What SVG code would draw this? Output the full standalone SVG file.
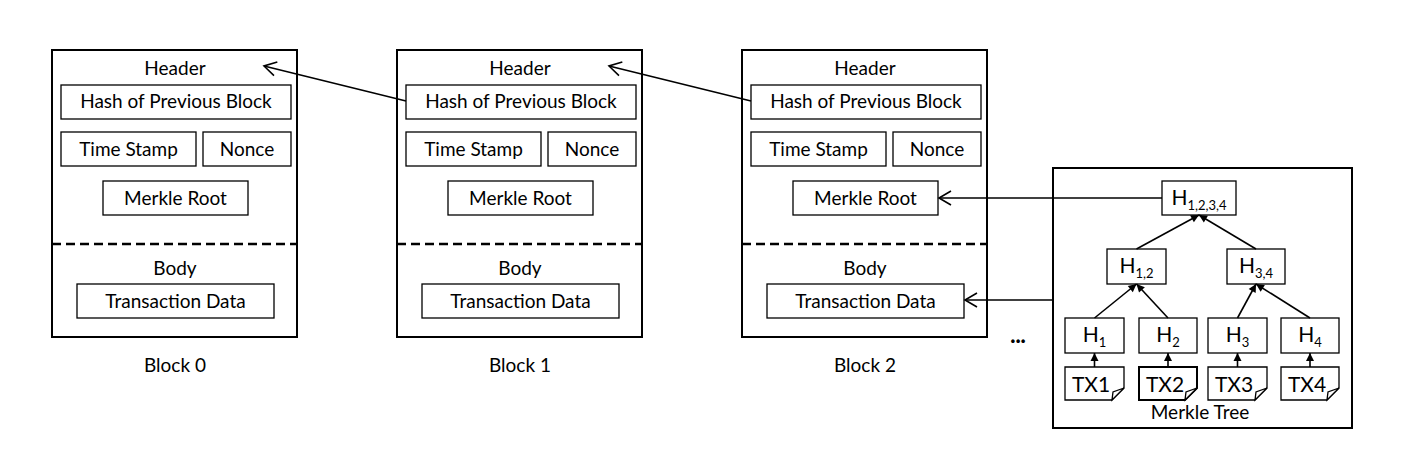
<svg xmlns="http://www.w3.org/2000/svg" width="1410" height="458" viewBox="0 0 1410 458">
<style>
text{font-family:Lato,"Open Sans","Liberation Sans",sans-serif;font-size:19px;fill:#000;text-anchor:middle}
.outer{fill:#fff;stroke:#000;stroke-width:2}
.box{fill:#fff;stroke:#000;stroke-width:1.3}
.dash{stroke:#000;stroke-width:2.5;stroke-dasharray:9,5}
.conn{fill:none;stroke:#000;stroke-width:1.6}
.t{font-size:21px}
.sub{font-size:13px}
</style>
<defs>
<marker id="open" viewBox="-14 -9 16 18" refX="0" refY="0" markerWidth="16" markerHeight="18" markerUnits="userSpaceOnUse" orient="auto">
<path d="M-12,-7 L0,0 L-12,7" fill="none" stroke="#000" stroke-width="1.6"/>
</marker>
<marker id="fill" viewBox="-9 -5 10 10" refX="0" refY="0" markerWidth="10" markerHeight="10" markerUnits="userSpaceOnUse" orient="auto">
<path d="M-8,-4 L0,0 L-8,4 Z" fill="#000"/>
</marker>
</defs>
<rect width="1410" height="458" fill="#fff"/>

<g id="block0">
<rect class="outer" x="52" y="50" width="245" height="287"/>
<text x="175" y="75">Header</text>
<rect class="box" x="61" y="85" width="230" height="34"/>
<text x="176" y="108">Hash of Previous Block</text>
<rect class="box" x="61" y="132" width="135" height="34"/>
<text x="128.5" y="156">Time Stamp</text>
<rect class="box" x="203" y="132" width="88" height="34"/>
<text x="247" y="156">Nonce</text>
<rect class="box" x="103" y="181" width="145" height="34"/>
<text x="175.5" y="205">Merkle Root</text>
<line class="dash" x1="52" y1="244" x2="297" y2="244"/>
<text x="175" y="275">Body</text>
<rect class="box" x="77" y="284" width="197" height="34"/>
<text x="175.5" y="308">Transaction Data</text>
<text x="175" y="372">Block 0</text>
</g>

<g id="block1" transform="translate(345,0)">
<rect class="outer" x="52" y="50" width="245" height="287"/>
<text x="175" y="75">Header</text>
<rect class="box" x="61" y="85" width="230" height="34"/>
<text x="176" y="108">Hash of Previous Block</text>
<rect class="box" x="61" y="132" width="135" height="34"/>
<text x="128.5" y="156">Time Stamp</text>
<rect class="box" x="203" y="132" width="88" height="34"/>
<text x="247" y="156">Nonce</text>
<rect class="box" x="103" y="181" width="145" height="34"/>
<text x="175.5" y="205">Merkle Root</text>
<line class="dash" x1="52" y1="244" x2="297" y2="244"/>
<text x="175" y="275">Body</text>
<rect class="box" x="77" y="284" width="197" height="34"/>
<text x="175.5" y="308">Transaction Data</text>
<text x="175" y="372">Block 1</text>
</g>

<g id="block2" transform="translate(690,0)">
<rect class="outer" x="52" y="50" width="245" height="287"/>
<text x="175" y="75">Header</text>
<rect class="box" x="61" y="85" width="230" height="34"/>
<text x="176" y="108">Hash of Previous Block</text>
<rect class="box" x="61" y="132" width="135" height="34"/>
<text x="128.5" y="156">Time Stamp</text>
<rect class="box" x="203" y="132" width="88" height="34"/>
<text x="247" y="156">Nonce</text>
<rect class="box" x="103" y="181" width="145" height="34"/>
<text x="175.5" y="205">Merkle Root</text>
<line class="dash" x1="52" y1="244" x2="297" y2="244"/>
<text x="175" y="275">Body</text>
<rect class="box" x="77" y="284" width="197" height="34"/>
<text x="175.5" y="308">Transaction Data</text>
<text x="175" y="372">Block 2</text>
</g>

<g id="ellipsis">
<text x="1018" y="343" style="font-weight:900;font-size:22px">...</text>
</g>

<g id="merkle-tree">
<rect class="outer" x="1053" y="168" width="299" height="260"/>
<text x="1200" y="419">Merkle Tree</text>
<g id="h1234">
<rect class="box" x="1162" y="181" width="74" height="34"/>
<text class="t" x="1199" y="205">H<tspan class="sub" dy="5">1,2,3,4</tspan></text>
</g>
<g id="h12">
<rect class="box" x="1107" y="249" width="59" height="35"/>
<text class="t" x="1136.5" y="273">H<tspan class="sub" dy="5">1,2</tspan></text>
</g>
<g id="h34">
<rect class="box" x="1227" y="249" width="58" height="35"/>
<text class="t" x="1256" y="273">H<tspan class="sub" dy="5">3,4</tspan></text>
</g>
<g id="h1">
<rect class="box" x="1065" y="318" width="59" height="35"/>
<text class="t" x="1094.5" y="342">H<tspan class="sub" dy="5">1</tspan></text>
</g>
<g id="h2">
<rect class="box" x="1139" y="318" width="58" height="35"/>
<text class="t" x="1168" y="342">H<tspan class="sub" dy="5">2</tspan></text>
</g>
<g id="h3">
<rect class="box" x="1208" y="318" width="59" height="35"/>
<text class="t" x="1237.5" y="342">H<tspan class="sub" dy="5">3</tspan></text>
</g>
<g id="h4">
<rect class="box" x="1281" y="318" width="58" height="35"/>
<text class="t" x="1310" y="342">H<tspan class="sub" dy="5">4</tspan></text>
</g>
<g id="tx1">
<path class="box" d="M1065,367 H1124 V388 L1112,400 H1065 Z"/>
<path class="box" d="M1124,388 L1112,400 L1113,392 Z"/>
<text class="t" x="1091" y="392">TX1</text>
</g>
<g id="tx2">
<path class="box" style="stroke-width:2" d="M1139,367 H1197 V388 L1185,400 H1139 Z"/>
<path class="box" d="M1197,388 L1185,400 L1186,392 Z"/>
<text class="t" x="1165" y="392">TX2</text>
</g>
<g id="tx3">
<path class="box" d="M1208,367 H1267 V388 L1255,400 H1208 Z"/>
<path class="box" d="M1267,388 L1255,400 L1256,392 Z"/>
<text class="t" x="1234" y="392">TX3</text>
</g>
<g id="tx4">
<path class="box" d="M1281,367 H1339 V388 L1327,400 H1281 Z"/>
<path class="box" d="M1339,388 L1327,400 L1328,392 Z"/>
<text class="t" x="1307" y="392">TX4</text>
</g>
</g>

<g id="connectors">
<line class="conn" x1="406" y1="101" x2="264" y2="66" marker-end="url(#open)"/>
<line class="conn" x1="751" y1="101" x2="609" y2="66" marker-end="url(#open)"/>
<line class="conn" x1="1162" y1="198" x2="939" y2="198" marker-end="url(#open)"/>
<line class="conn" x1="1053" y1="300" x2="965" y2="300" marker-end="url(#open)"/>
<line class="conn" x1="1136.5" y1="249" x2="1199" y2="215" marker-end="url(#fill)"/>
<line class="conn" x1="1256" y1="249" x2="1199" y2="215" marker-end="url(#fill)"/>
<line class="conn" x1="1094.5" y1="318" x2="1136.5" y2="284" marker-end="url(#fill)"/>
<line class="conn" x1="1168" y1="318" x2="1136.5" y2="284" marker-end="url(#fill)"/>
<line class="conn" x1="1237.5" y1="318" x2="1256" y2="284" marker-end="url(#fill)"/>
<line class="conn" x1="1310" y1="318" x2="1256" y2="284" marker-end="url(#fill)"/>
<line class="conn" x1="1094.5" y1="367" x2="1094.5" y2="353" marker-end="url(#fill)"/>
<line class="conn" x1="1168" y1="367" x2="1168" y2="353" marker-end="url(#fill)"/>
<line class="conn" x1="1237.5" y1="367" x2="1237.5" y2="353" marker-end="url(#fill)"/>
<line class="conn" x1="1310" y1="367" x2="1310" y2="353" marker-end="url(#fill)"/>
</g>
</svg>
